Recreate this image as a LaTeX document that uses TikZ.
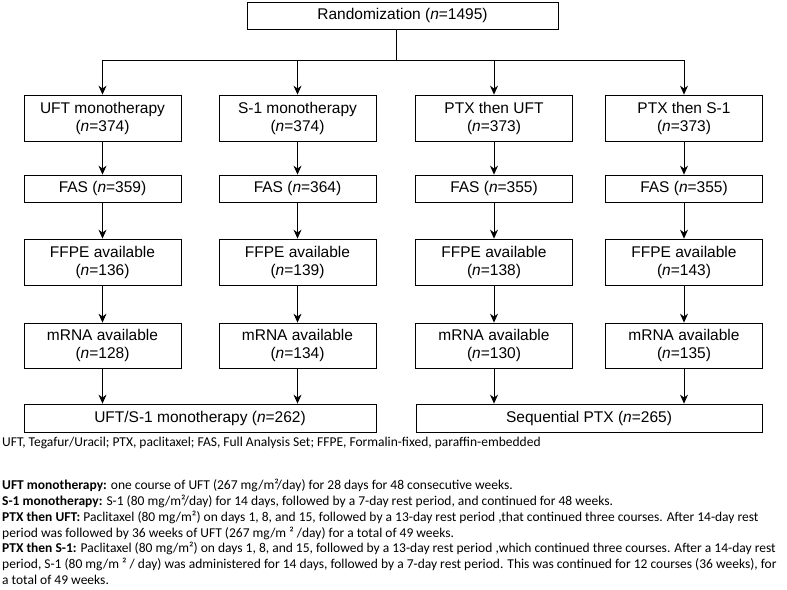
\documentclass[tikz,border=0pt]{standalone}
\usepackage{fontspec}
\setmainfont{Liberation Sans}
\newfontfamily\notefont{Carlito}
\usetikzlibrary{arrows.meta}
\begin{document}
\begin{tikzpicture}[x=1pt,y=-1pt,
  box/.style={draw, line width=0.8pt, align=center, inner sep=0pt, font=\fontsize{15.5}{18}\selectfont, minimum width=157pt},
  tall/.style={box, minimum height=46pt},
  short/.style={box, minimum height=27pt},
  arr/.style={line width=0.8pt, -{Stealth[length=9pt,width=8pt,inset=3pt]}},
  ln/.style={line width=0.8pt},
  note/.style={anchor=west, inner sep=0pt, font=\notefont\fontsize{13.5}{15}\selectfont}]
\useasboundingbox (0,0) rectangle (787,589);
\fill[white] (0,0) rectangle (787,589);
% top
\node[short, minimum width=311pt] (rand) at (402.5,15.5) {Randomization (\textit{n}=1495)};
\coordinate (hub) at (396,60);
% row 1
\node[tall] (u1) at (102.5,118) {UFT monotherapy\\(\textit{n}=374)};
\node[tall] (u2) at (297.5,118) {S-1 monotherapy\\(\textit{n}=374)};
\node[tall] (u3) at (494,118) {PTX then UFT\\(\textit{n}=373)};
\node[tall] (u4) at (684,118) {PTX then S-1\\(\textit{n}=373)};
% FAS
\node[short] (f1) at (102.5,188.5) {FAS (\textit{n}=359)};
\node[short] (f2) at (297.5,188.5) {FAS (\textit{n}=364)};
\node[short] (f3) at (494,188.5) {FAS (\textit{n}=355)};
\node[short] (f4) at (684,188.5) {FAS (\textit{n}=355)};
% FFPE
\node[tall] (p1) at (102.5,262) {FFPE available\\(\textit{n}=136)};
\node[tall] (p2) at (297.5,262) {FFPE available\\(\textit{n}=139)};
\node[tall] (p3) at (494,262) {FFPE available\\(\textit{n}=138)};
\node[tall] (p4) at (684,262) {FFPE available\\(\textit{n}=143)};
% mRNA
\node[tall, minimum height=45pt] (m1) at (102.5,345.5) {mRNA available\\(\textit{n}=128)};
\node[tall, minimum height=45pt] (m2) at (297.5,345.5) {mRNA available\\(\textit{n}=134)};
\node[tall, minimum height=45pt] (m3) at (494,345.5) {mRNA available\\(\textit{n}=130)};
\node[tall, minimum height=45pt] (m4) at (684,345.5) {mRNA available\\(\textit{n}=135)};
% bottom
\node[short, minimum width=352pt, minimum height=28pt] (bl) at (200,418) {UFT/S-1 monotherapy (\textit{n}=262)};
\node[short, minimum width=346pt, minimum height=28pt] (br) at (589,418) {Sequential PTX (\textit{n}=265)};
% connectors
\draw[ln] (rand.south -| hub) -- (hub);
\draw[ln] (hub -| u1) -- (hub -| u4);
\foreach \c in {u1,u2,u3,u4} \draw[arr] (hub -| \c) -- (\c.north);
\foreach \a/\b in {u1/f1,u2/f2,u3/f3,u4/f4,f1/p1,f2/p2,f3/p3,f4/p4,p1/m1,p2/m2,p3/m3,p4/m4}
  \draw[arr] (\a.south) -- (\b.north);
\draw[arr] (m1.south) -- (m1.south |- bl.north);
\draw[arr] (m2.south) -- (m2.south |- bl.north);
\draw[arr] (m3.south) -- (m3.south |- br.north);
\draw[arr] (m4.south) -- (m4.south |- br.north);
% notes
\node[note] (n0) at (2,443) {UFT, Tegafur/Uracil; PTX, paclitaxel; FAS, Full Analysis Set; FFPE, Formalin-fixed, paraffin-embedded};
\node[note] (n1) at (2,485) {\textbf{UFT monotherapy:} one course of UFT (267 mg/m²/day) for 28 days for 48 consecutive weeks.};
\node[note] (n2) at (2,501) {\textbf{S-1 monotherapy:} S-1 (80 mg/m²/day) for 14 days, followed by a 7-day rest period, and continued for 48 weeks.};
\node[note] (n3) at (2,517) {\textbf{PTX then UFT:} Paclitaxel (80 mg/m²) on days 1, 8, and 15, followed by a 13-day rest period ,that continued three courses. After 14-day rest};
\node[note] (n4) at (2,533) {period was followed by 36 weeks of UFT (267 mg/m ² /day) for a total of 49 weeks.};
\node[note] (n5) at (2,548.5) {\textbf{PTX then S-1:} Paclitaxel (80 mg/m²) on days 1, 8, and 15, followed by a 13-day rest period ,which continued three courses. After a 14-day rest};
\node[note] (n6) at (2,564.5) {period, S-1 (80 mg/m ² / day) was administered for 14 days, followed by a 7-day rest period. This was continued for 12 courses (36 weeks), for};
\node[note] (n7) at (2,580) {a total of 49 weeks.};
\end{tikzpicture}
\end{document}
